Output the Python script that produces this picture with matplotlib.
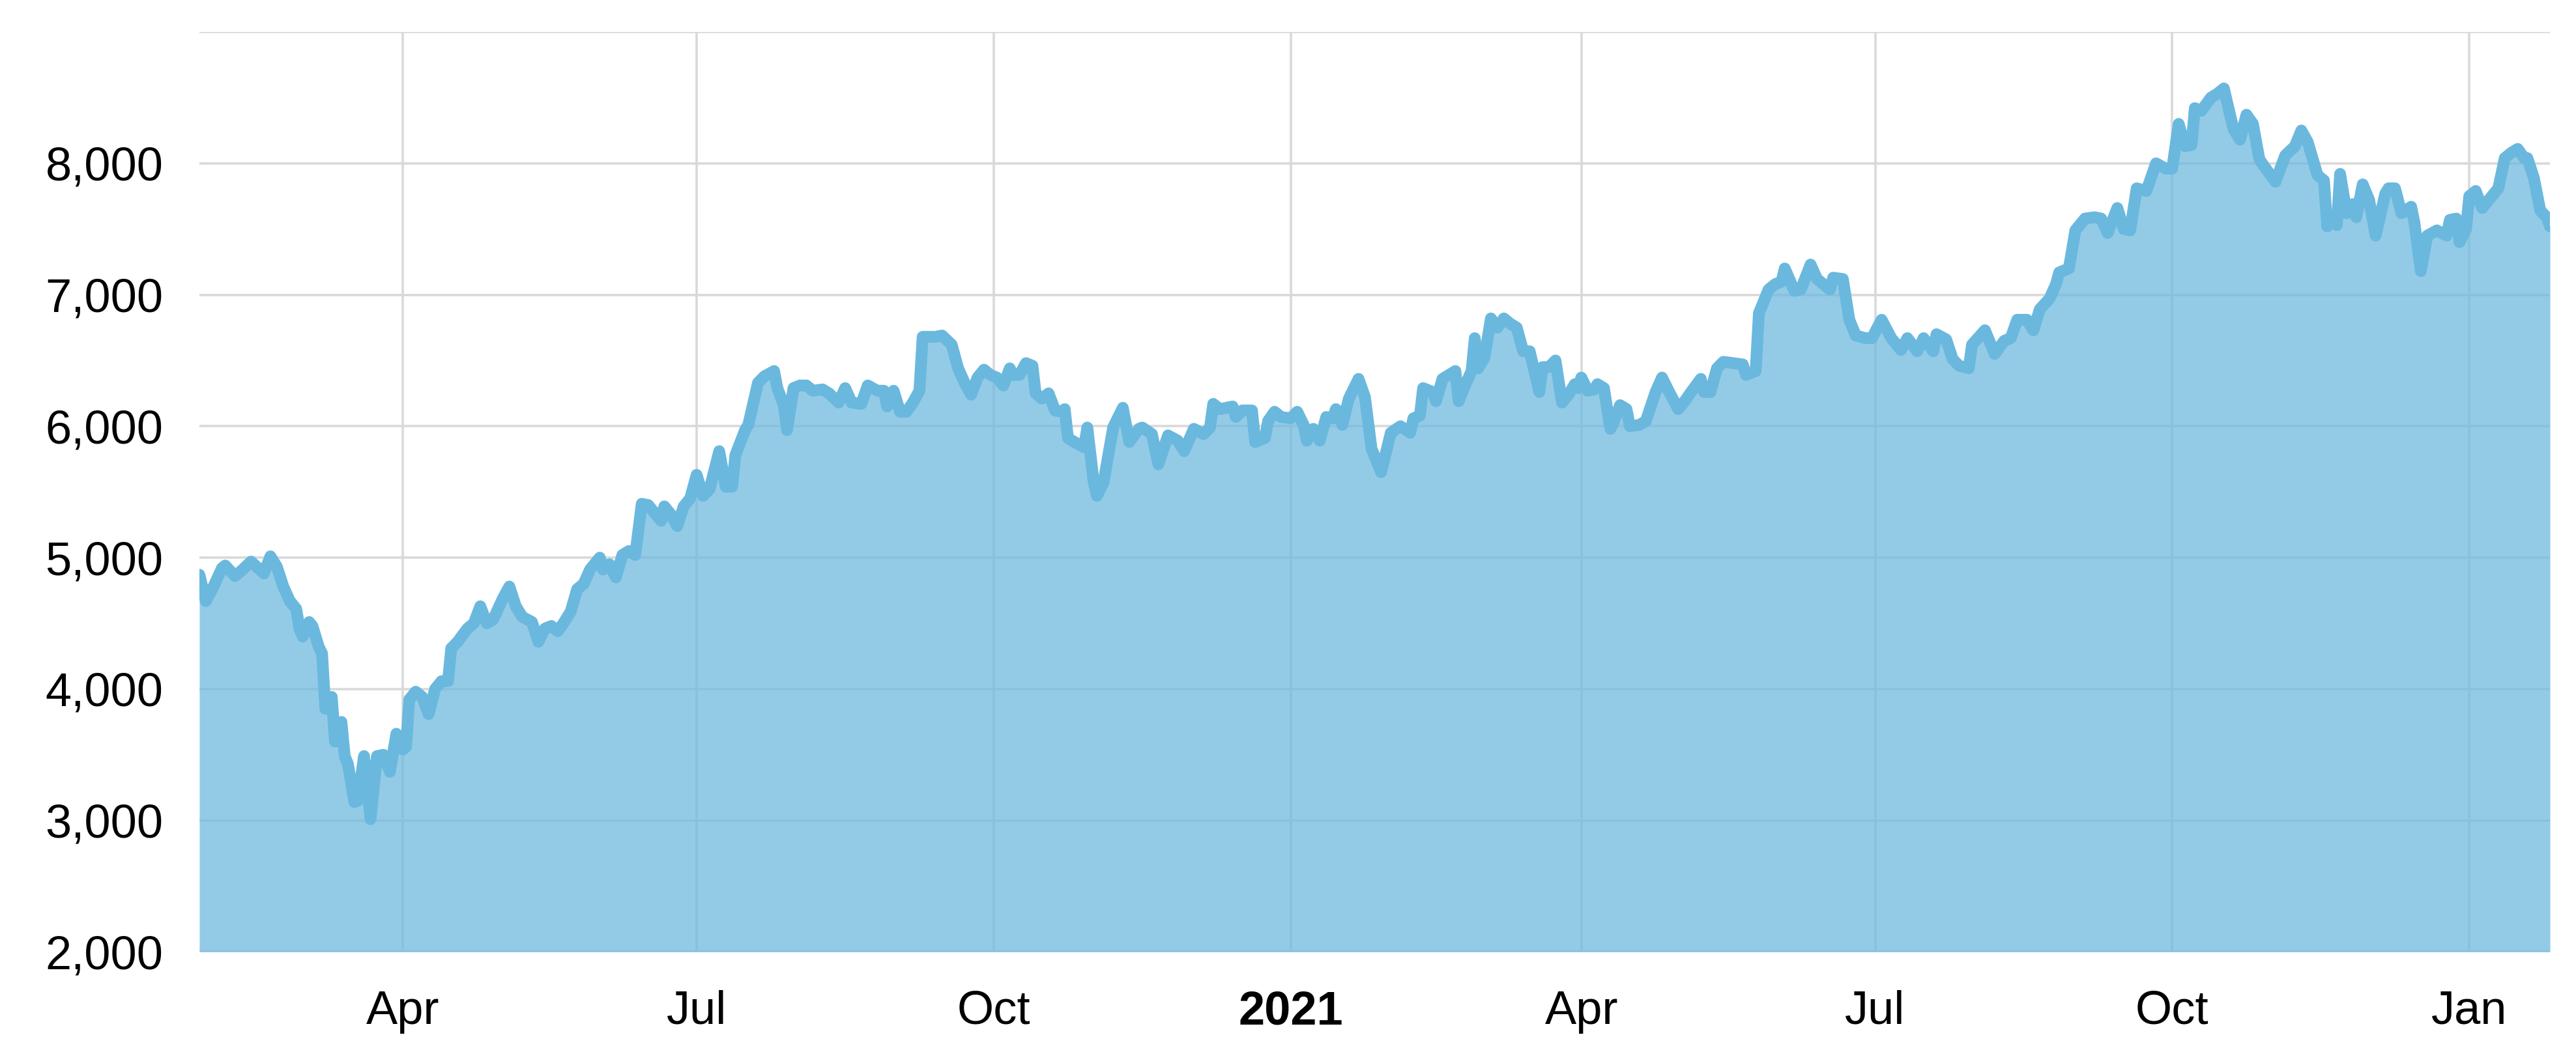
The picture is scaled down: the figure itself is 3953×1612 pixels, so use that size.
import pandas as pd
import matplotlib
matplotlib.use("Agg")
import matplotlib.pyplot as plt
from matplotlib.ticker import FuncFormatter

plt.rcParams['font.family'] = ['Liberation Sans', 'DejaVu Sans']

# daily closes: day offset from start_date and value
start_date = "2020-01-29"
days = [
    0, 2, 4, 7, 8, 11, 13, 16, 20, 22, 24, 26, 28, 30, 31, 32, 34, 35, 37, 38,
    39, 41, 42, 44, 45, 46, 48, 49, 51, 53, 55, 57, 59, 61, 63, 64, 65, 67, 69, 71,
    73, 75, 77, 78, 80, 83, 85, 87, 89, 91, 94, 96, 98, 100, 103, 105, 107, 109, 111, 113,
    115, 117, 119, 121, 124, 125, 127, 129, 131, 133, 135, 137, 139, 141, 143, 144, 146, 148, 150, 152,
    154, 156, 158, 161, 163, 165, 166, 169, 170, 173, 175, 178, 179, 181, 182, 184, 186, 188, 190, 193,
    195, 198, 200, 202, 205, 207, 210, 212, 213, 215, 217, 219, 221, 223, 224, 226, 228, 230, 233, 235,
    237, 239, 241, 243, 245, 247, 249, 251, 252, 254, 256, 258, 259, 261, 263, 265, 267, 268, 269, 271,
    274, 275, 277, 278, 280, 283, 286, 288, 291, 292, 295, 297, 300, 303, 305, 308, 311, 313, 314, 316,
    320, 321, 323, 326, 327, 330, 331, 333, 335, 338, 340, 342, 343, 345, 347, 349, 351, 352, 354, 356,
    359, 361, 363, 365, 366, 369, 372, 375, 376, 378, 379, 382, 383, 385, 387, 389, 390, 392, 394, 395,
    396, 398, 400, 402, 404, 406, 408, 410, 412, 415, 416, 418, 420, 422, 424, 426, 427, 428, 430, 432,
    433, 435, 437, 438, 440, 442, 443, 446, 448, 451, 453, 455, 458, 460, 462, 465, 466, 468, 470, 472,
    475, 478, 479, 482, 483, 486, 488, 490, 491, 494, 496, 499, 501, 505, 506, 509, 511, 513, 516, 518,
    521, 524, 527, 529, 532, 534, 537, 538, 541, 543, 545, 548, 549, 553, 556, 559, 561, 563, 566, 568,
    570, 573, 575, 576, 579, 581, 584, 587, 589, 591, 594, 596, 598, 600, 603, 606, 609, 611, 613, 615,
    617, 618, 620, 623, 625, 627, 629, 630, 632, 634, 636, 638, 640, 643, 646, 649, 651, 653, 656, 658,
    659, 661, 662, 663, 665, 667, 668, 670, 672, 674, 677, 678, 680, 682, 685, 686, 688, 690, 693, 696,
    697, 699, 700, 702, 703, 705, 707, 710, 712, 714, 716, 718, 720, 721, 723, 725, 727, 728,
]
values = [
    4870, 4670, 4760, 4920, 4940, 4860, 4900, 4970, 4880, 5010, 4930, 4780, 4670, 4610, 4460, 4400, 4510, 4480, 4320, 4270,
    3850, 3940, 3600, 3750, 3490, 3430, 3140, 3150, 3490, 3010, 3490, 3500, 3370, 3660, 3540, 3560, 3920, 3980, 3940, 3810,
    4000, 4060, 4060, 4310, 4360, 4460, 4500, 4630, 4500, 4530, 4690, 4780, 4630, 4550, 4510, 4360, 4460, 4480, 4440, 4510,
    4590, 4760, 4800, 4910, 5000, 4910, 4950, 4850, 5020, 5050, 5020, 5410, 5400, 5340, 5280, 5390, 5330, 5240, 5390, 5450,
    5630, 5470, 5520, 5810, 5540, 5540, 5780, 5970, 6010, 6330, 6380, 6420, 6290, 6160, 5970, 6290, 6310, 6310, 6270, 6280,
    6250, 6180, 6290, 6180, 6170, 6310, 6270, 6270, 6150, 6270, 6110, 6110, 6180, 6270, 6680, 6680, 6680, 6690, 6620, 6440,
    6330, 6240, 6370, 6430, 6390, 6370, 6310, 6440, 6390, 6390, 6480, 6460, 6250, 6210, 6250, 6120, 6110, 6130, 5910, 5880,
    5840, 5990, 5570, 5470, 5570, 5990, 6140, 5880, 5980, 5990, 5940, 5710, 5930, 5890, 5810, 5980, 5940, 5990, 6170, 6130,
    6150, 6070, 6120, 6120, 5880, 5910, 6040, 6110, 6070, 6060, 6110, 6010, 5890, 5980, 5890, 6070, 6060, 6130, 6010, 6210,
    6360, 6220, 5830, 5710, 5650, 5950, 6000, 5950, 6060, 6080, 6290, 6260, 6190, 6360, 6390, 6420, 6190, 6310, 6420, 6670,
    6440, 6520, 6820, 6750, 6820, 6780, 6750, 6570, 6570, 6260, 6450, 6450, 6500, 6180, 6240, 6320, 6290, 6370, 6270, 6280,
    6320, 6290, 5980, 6030, 6160, 6130, 6000, 6010, 6040, 6260, 6370, 6270, 6130, 6190, 6260, 6360, 6260, 6260, 6440, 6490,
    6480, 6470, 6390, 6420, 6860, 7040, 7080, 7100, 7200, 7030, 7040, 7230, 7120, 7040, 7130, 7120, 6810, 6690, 6670, 6670,
    6810, 6670, 6580, 6670, 6570, 6670, 6570, 6700, 6660, 6510, 6460, 6440, 6620, 6730, 6550, 6650, 6670, 6810, 6810, 6730,
    6890, 6970, 7080, 7170, 7200, 7490, 7580, 7590, 7580, 7470, 7660, 7500, 7490, 7810, 7790, 8000, 7960, 7960, 8300, 8130,
    8140, 8420, 8400, 8500, 8530, 8570, 8360, 8260, 8180, 8370, 8300, 8030, 7960, 7860, 8060, 8130, 8250, 8160, 7910, 7870,
    7520, 7570, 7530, 7920, 7620, 7690, 7590, 7840, 7720, 7450, 7770, 7810, 7810, 7620, 7670, 7550, 7180, 7450, 7490, 7450,
    7570, 7580, 7400, 7500, 7750, 7790, 7660, 7750, 7810, 8040, 8080, 8110, 8040, 8040, 7890, 7640, 7590, 7520,
]

tick_dates = ["2020-04-01", "2020-07-01", "2020-10-01", "2021-01-01",
              "2021-04-01", "2021-07-01", "2021-10-01", "2022-01-01"]
tick_labels = ["Apr", "Jul", "Oct", "2021", "Apr", "Jul", "Oct", "Jan"]
y_ticks = [2000, 3000, 4000, 5000, 6000, 7000, 8000, 9000]

dates = pd.to_datetime(start_date) + pd.to_timedelta(days, unit="D")

line_color = "#6ab8de"

fig = plt.figure(figsize=(39.53, 16.12), dpi=100)
ax = fig.add_axes([0.0774, 0.0934, 0.9125, 0.8762])

ax.fill_between(dates, values, 2000, color=line_color, alpha=0.72, lw=0)
ax.plot(dates, values, color=line_color, lw=13,
        solid_joinstyle="round", solid_capstyle="round")

ax.set_xlim(dates[0], dates[-1])
ax.set_ylim(2000, 9000)

ax.set_xticks(pd.to_datetime(tick_dates))
ax.set_xticklabels(tick_labels)
ax.get_xticklabels()[3].set_fontweight("bold")
ax.set_yticks(y_ticks)
ax.yaxis.set_major_formatter(
    FuncFormatter(lambda v, p: "" if v >= 9000 else f"{int(v):,}"))

ax.set_axisbelow(True)
ax.grid(True, color="#d9d9d9", lw=2.6)
for s in ax.spines.values():
    s.set_visible(False)
ax.tick_params(axis="both", length=0, labelsize=52, colors="black")
ax.tick_params(axis="x", pad=42)
ax.tick_params(axis="y", pad=40)

fig.savefig("out.png", dpi=100)
